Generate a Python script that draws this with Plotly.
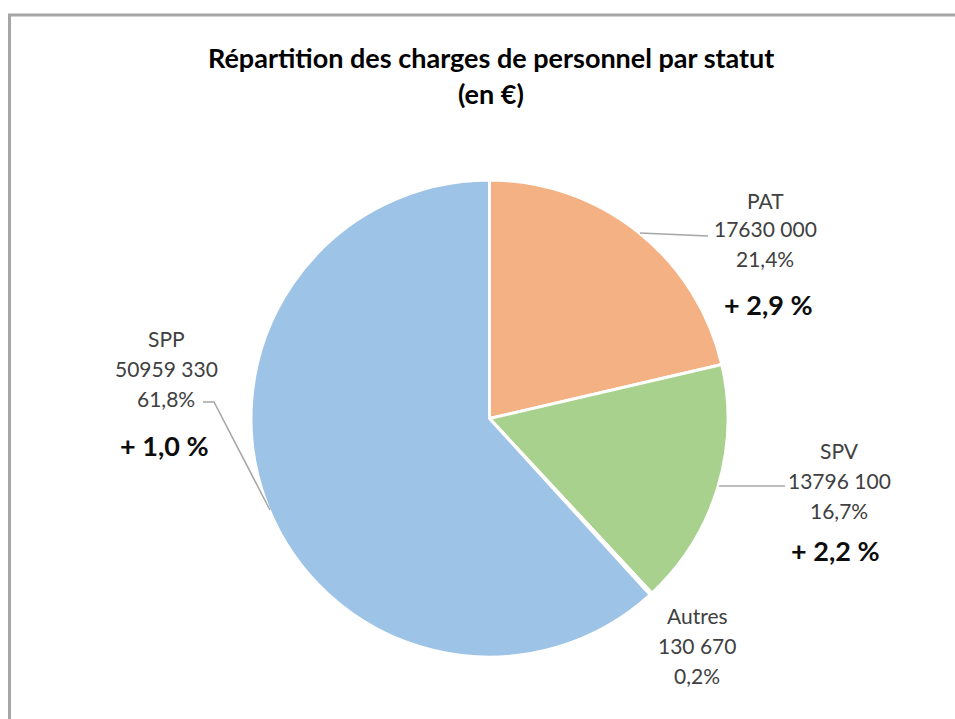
import plotly.graph_objects as go

# ---- data ----
categories = ["PAT", "SPV", "Autres", "SPP"]
values = [17630000, 13796100, 130670, 50959330]
value_labels = ["17630 000", "13796 100", "130 670", "50959 330"]
variations = ["+ 2,9 %", "+ 2,2 %", None, "+ 1,0 %"]
colors = ["#F4B183", "#A9D18E", "#BFBFBF", "#9DC3E6"]

title_lines = ["Répartition des charges de personnel par statut", "(en €)"]

W, H = 955, 719


def px(x):
    return x / W


def py(y):
    return 1 - y / H


total = sum(values)
pct_labels = [f"{v / total * 100:.1f}%".replace(".", ",") for v in values]

fig = go.Figure()
fig.add_trace(go.Pie(
    labels=categories,
    values=values,
    sort=False,
    direction="clockwise",
    rotation=0,
    textinfo="none",
    hoverinfo="skip",
    showlegend=False,
    marker=dict(colors=colors, line=dict(color="white", width=3)),
    domain=dict(x=[px(251), px(728)], y=[py(657), py(180)]),
))

# label layout (positions in pixels): x center, y of first line, line step, y of variation, x of variation
label_pos = {
    "PAT": (765, 200, 29, 305, 768),
    "SPV": (839, 451, 29.5, 550, 835),
    "Autres": (697, 615, 30, None, None),
    "SPP": (166, 338, 30, 445, 164),
}

label_font = dict(family="Lato, Carlito, sans-serif", size=21, color="#404040")
bold_font = dict(family="Lato, Carlito, sans-serif", size=27, color="#0D0D0D")

annotations = []
for cat, vl, pl, var in zip(categories, value_labels, pct_labels, variations):
    xc, y0, step, yv, xv = label_pos[cat]
    for i, t in enumerate([cat, vl, pl]):
        annotations.append(dict(
            x=px(xc), y=py(y0 + i * step), xref="paper", yref="paper",
            text=t, showarrow=False, xanchor="center", yanchor="middle",
            font=label_font,
        ))
    if var is not None:
        annotations.append(dict(
            x=px(xv), y=py(yv), xref="paper", yref="paper",
            text=f"<b>{var}</b>", showarrow=False, xanchor="center", yanchor="middle",
            font=bold_font,
        ))

title_font = dict(family="Lato, Carlito, sans-serif", size=27, color="#000000")
for i, t in enumerate(title_lines):
    annotations.append(dict(
        x=px(491), y=py(57 + i * 36), xref="paper", yref="paper",
        text=f"<b>{t}</b>", showarrow=False, xanchor="center", yanchor="middle",
        font=title_font,
    ))

line_style = dict(color="#A6A6A6", width=1.5)
shapes = [
    # chart area border (only top and left visible in the frame)
    dict(type="rect", xref="paper", yref="paper",
         x0=px(9.5), x1=px(970), y0=py(15), y1=py(740),
         line=dict(color="#A6A6A6", width=3), fillcolor="rgba(0,0,0,0)"),
    # leader lines
    dict(type="path", xref="paper", yref="paper",
         path=f"M {px(640)},{py(233)} L {px(708)},{py(236)}", line=line_style),
    dict(type="path", xref="paper", yref="paper",
         path=f"M {px(719)},{py(486)} L {px(785)},{py(486)}", line=line_style),
    dict(type="path", xref="paper", yref="paper",
         path=f"M {px(203)},{py(402)} L {px(214)},{py(402)} L {px(270)},{py(510)}", line=line_style),
]

fig.update_layout(
    width=W, height=H,
    margin=dict(l=0, r=0, t=0, b=0),
    paper_bgcolor="white",
    plot_bgcolor="white",
    annotations=annotations,
    shapes=shapes,
)

fig.write_html(
    "out.html",
    config={"displayModeBar": False},
    post_script="document.body.style.margin='0';document.body.style.overflow='hidden';",
)
